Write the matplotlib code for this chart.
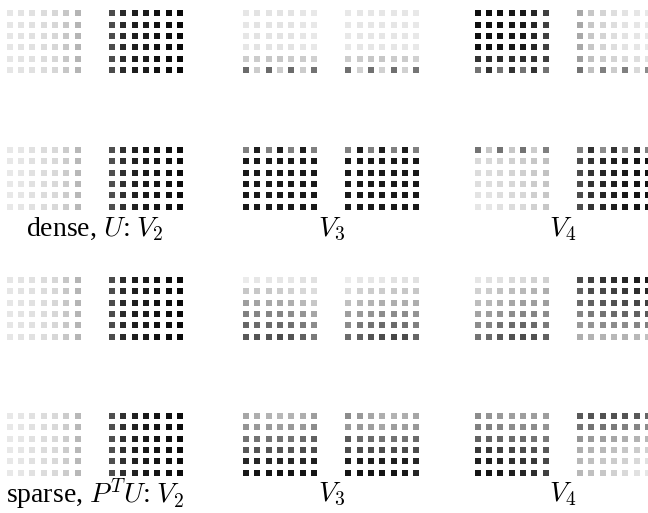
import numpy as np
import matplotlib
matplotlib.use("Agg")
import matplotlib.pyplot as plt

# gray level of each dot (1 = white, 0 = black), 6 rows x 7 columns per grid
light_ramp = [0.90, 0.89, 0.88, 0.86, 0.84, 0.78, 0.71]
dark_ramp = [0.30, 0.17, 0.12, 0.11, 0.07, 0.05, 0.04]

# --- dense, U ---
d_v2_top_l = [light_ramp] * 6
d_v2_top_r = [dark_ramp] * 6
d_v2_bot_l = [[0.91, 0.90, 0.88, 0.86, 0.85, 0.80, 0.72]] * 6
d_v2_bot_r = [[0.31, 0.19, 0.13, 0.10, 0.08, 0.06, 0.05]] * 6

d_v3_top_l = [[0.90, 0.89, 0.89, 0.89, 0.89, 0.90, 0.91]] * 4 + [
    [0.80, 0.80, 0.78, 0.78, 0.80, 0.80, 0.82],
    [0.42, 0.80, 0.42, 0.80, 0.42, 0.80, 0.45]]
d_v3_top_r = [[0.91, 0.90, 0.90, 0.90, 0.90, 0.90, 0.91]] * 4 + [
    [0.80, 0.80, 0.78, 0.78, 0.80, 0.80, 0.82],
    [0.44, 0.82, 0.44, 0.82, 0.44, 0.82, 0.46]]
d_v3_bot_l = [[0.50, 0.12, 0.50, 0.12, 0.50, 0.12, 0.50]] + [[0.10] * 7] * 5
d_v3_bot_r = [[0.50, 0.12, 0.50, 0.12, 0.50, 0.12, 0.50]] + [[0.10] * 7] * 5

d_v4_top_l = [[0.06, 0.06, 0.07, 0.09, 0.10, 0.15, 0.25]] * 4 + [
    [0.20, 0.18, 0.18, 0.18, 0.18, 0.20, 0.25],
    [0.45, 0.20, 0.45, 0.20, 0.45, 0.20, 0.45]]
d_v4_top_r = [[0.66, 0.78, 0.83, 0.87, 0.89, 0.90, 0.91]] * 4 + [
    [0.62, 0.75, 0.80, 0.83, 0.85, 0.87, 0.88],
    [0.45, 0.75, 0.50, 0.80, 0.50, 0.85, 0.55]]
d_v4_bot_l = [[0.45, 0.78, 0.45, 0.78, 0.45, 0.80, 0.50],
              [0.85, 0.85, 0.83, 0.82, 0.80, 0.78, 0.75],
              [0.86, 0.86, 0.84, 0.83, 0.81, 0.79, 0.76],
              [0.87, 0.87, 0.85, 0.84, 0.82, 0.80, 0.77],
              [0.89, 0.89, 0.87, 0.85, 0.84, 0.81, 0.78],
              [0.90, 0.90, 0.88, 0.86, 0.85, 0.82, 0.78]]
d_v4_bot_r = [[0.50, 0.20, 0.55, 0.20, 0.55, 0.20, 0.50]] + [
    [0.30, 0.20, 0.15, 0.12, 0.10, 0.08, 0.07]] * 5

# --- sparse, P^T U ---
s_v2_top_l = [light_ramp] * 6
s_v2_top_r = [dark_ramp] * 6
s_v2_bot_l = [[0.91, 0.90, 0.88, 0.86, 0.85, 0.80, 0.72]] * 6
s_v2_bot_r = [[0.31, 0.19, 0.13, 0.10, 0.08, 0.06, 0.05]] * 6

s_v3_top_l = [[0.92, 0.90, 0.90, 0.90, 0.90, 0.88, 0.88],
              [0.78, 0.78, 0.78, 0.80, 0.82, 0.84, 0.86],
              [0.62, 0.64, 0.66, 0.66, 0.68, 0.72, 0.78],
              [0.50, 0.52, 0.52, 0.52, 0.55, 0.58, 0.65],
              [0.40, 0.42, 0.42, 0.42, 0.44, 0.48, 0.55],
              [0.35, 0.33, 0.33, 0.30, 0.33, 0.38, 0.48]]
s_v3_top_r = [[0.92, 0.90, 0.90, 0.90, 0.88, 0.88, 0.88],
              [0.86, 0.82, 0.80, 0.80, 0.78, 0.78, 0.78],
              [0.75, 0.72, 0.70, 0.68, 0.68, 0.68, 0.68],
              [0.62, 0.60, 0.58, 0.55, 0.55, 0.55, 0.58],
              [0.55, 0.48, 0.45, 0.42, 0.42, 0.45, 0.50],
              [0.42, 0.38, 0.33, 0.30, 0.28, 0.30, 0.40]]
s_v3_bot_l = [[0.65, 0.68, 0.70, 0.72, 0.70, 0.68, 0.62],
              [0.58, 0.60, 0.60, 0.62, 0.60, 0.60, 0.55],
              [0.45, 0.45, 0.45, 0.45, 0.45, 0.42, 0.38],
              [0.35, 0.33, 0.33, 0.33, 0.33, 0.30, 0.30],
              [0.15, 0.15, 0.15, 0.15, 0.15, 0.15, 0.12],
              [0.10, 0.08, 0.08, 0.08, 0.08, 0.08, 0.08]]
s_v3_bot_r = [[0.55, 0.60, 0.65, 0.68, 0.70, 0.68, 0.65],
              [0.60, 0.60, 0.62, 0.65, 0.62, 0.62, 0.60],
              [0.35, 0.42, 0.42, 0.45, 0.45, 0.45, 0.42],
              [0.30, 0.30, 0.30, 0.30, 0.30, 0.30, 0.30],
              [0.12, 0.12, 0.12, 0.12, 0.12, 0.12, 0.15],
              [0.08, 0.08, 0.08, 0.08, 0.08, 0.10, 0.15]]

s_v4_top_l = [[0.90, 0.88, 0.88, 0.85, 0.85, 0.82, 0.82],
              [0.82, 0.80, 0.76, 0.74, 0.72, 0.70, 0.68],
              [0.74, 0.72, 0.68, 0.65, 0.62, 0.62, 0.62],
              [0.64, 0.62, 0.58, 0.55, 0.52, 0.52, 0.55],
              [0.55, 0.52, 0.45, 0.42, 0.40, 0.42, 0.48],
              [0.45, 0.42, 0.35, 0.32, 0.30, 0.32, 0.38]]
s_v4_top_r = [[0.30, 0.25, 0.20, 0.18, 0.15, 0.12, 0.10],
              [0.38, 0.30, 0.28, 0.25, 0.22, 0.18, 0.15],
              [0.42, 0.38, 0.35, 0.32, 0.30, 0.28, 0.25],
              [0.52, 0.48, 0.45, 0.42, 0.40, 0.38, 0.35],
              [0.60, 0.58, 0.55, 0.55, 0.55, 0.52, 0.50],
              [0.68, 0.70, 0.70, 0.72, 0.70, 0.72, 0.75]]
s_v4_bot_l = [[0.55, 0.58, 0.60, 0.62, 0.62, 0.62, 0.62],
              [0.50, 0.50, 0.52, 0.55, 0.55, 0.55, 0.58],
              [0.38, 0.38, 0.40, 0.42, 0.42, 0.45, 0.48],
              [0.22, 0.22, 0.25, 0.27, 0.30, 0.32, 0.35],
              [0.12, 0.12, 0.15, 0.18, 0.20, 0.22, 0.28],
              [0.08, 0.08, 0.10, 0.12, 0.15, 0.18, 0.25]]
s_v4_bot_r = [[0.35, 0.33, 0.32, 0.32, 0.33, 0.35, 0.40],
              [0.45, 0.45, 0.45, 0.48, 0.50, 0.52, 0.55],
              [0.58, 0.60, 0.62, 0.65, 0.68, 0.70, 0.72],
              [0.68, 0.70, 0.72, 0.75, 0.78, 0.80, 0.82],
              [0.72, 0.75, 0.78, 0.80, 0.82, 0.85, 0.88],
              [0.72, 0.75, 0.78, 0.82, 0.85, 0.88, 0.90]]

# figure rows of grids (top to bottom), each row: V2 pair, V3 pair, V4 pair
grid_rows = [
    [(d_v2_top_l, d_v2_top_r), (d_v3_top_l, d_v3_top_r), (d_v4_top_l, d_v4_top_r)],
    [(d_v2_bot_l, d_v2_bot_r), (d_v3_bot_l, d_v3_bot_r), (d_v4_bot_l, d_v4_bot_r)],
    [(s_v2_top_l, s_v2_top_r), (s_v3_top_l, s_v3_top_r), (s_v4_top_l, s_v4_top_r)],
    [(s_v2_bot_l, s_v2_bot_r), (s_v3_bot_l, s_v3_bot_r), (s_v4_bot_l, s_v4_bot_r)],
]
dense_labels = [r"dense, $U$: $V_2$", r"$V_3$", r"$V_4$"]
sparse_labels = [r"sparse, $P^T U$: $V_2$", r"$V_3$", r"$V_4$"]

# === layout in pixels ===
W, H = 648, 513
step = 11.35                       # dot spacing
col_x0 = [9.7, 246.0, 477.7]       # first dot centre of the left grid in each column
pair_dx = 102.2                    # left grid -> right grid
row_y0 = [13.3, 150.0, 280.0, 416.0]
label_y = [229, 494]

plt.rcParams["font.family"] = ["Liberation Serif", "DejaVu Serif"]
plt.rcParams["mathtext.fontset"] = "cm"

fig = plt.figure(figsize=(W / 100, H / 100), dpi=100)
fig.patch.set_facecolor("white")

xs, ys = np.meshgrid(np.arange(7), np.arange(6))

def draw_grid(vals, cx0, cy0):
    left = (cx0 - step / 2) / W
    top = (cy0 - step / 2) / H
    ax = fig.add_axes([left, 1 - top - 6 * step / H, 7 * step / W, 6 * step / H])
    g = np.asarray(vals, dtype=float)
    ax.scatter(xs.ravel(), ys.ravel(), c=g.ravel(), cmap="gray", vmin=0, vmax=1,
               marker="s", s=19, linewidths=0)
    ax.set_xlim(-0.5, 6.5)
    ax.set_ylim(5.5, -0.5)
    ax.axis("off")

for r, row in enumerate(grid_rows):
    for c, (gl, gr) in enumerate(row):
        draw_grid(gl, col_x0[c], row_y0[r])
        draw_grid(gr, col_x0[c] + pair_dx, row_y0[r])

for k, labels in enumerate([dense_labels, sparse_labels]):
    for c, lab in enumerate(labels):
        xc = col_x0[c] + (pair_dx + 6 * step) / 2
        fig.text(xc / W, 1 - label_y[k] / H, lab, ha="center", va="center", fontsize=20)

fig.savefig("out.png", dpi=100, facecolor="white")
